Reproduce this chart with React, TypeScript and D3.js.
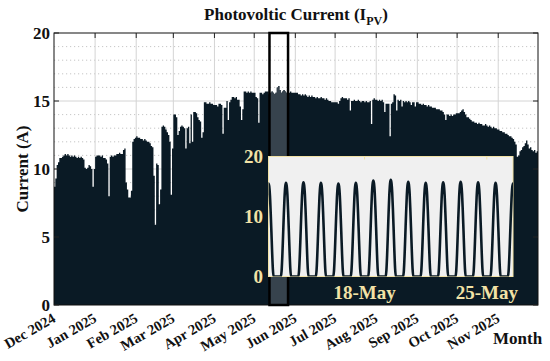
import React from "react";
import * as d3 from "d3";

// ---------- DATA ----------
const monthLabels = ["Dec 2024","Jan 2025","Feb 2025","Mar 2025","Apr 2025","May 2025","Jun 2025","Jul 2025","Aug 2025","Sep 2025","Oct 2025","Nov 2025"];
// daily peak PV current (A)
const dec2024 = [8.7,9.3,10.3,10.5,10.8,10.8,10.9,11.0,11.1,11.0,11.1,11.0,10.9,11.0,10.9,11.0,10.9,10.8,10.9,10.8,10.9,10.8,10.7,10.1,10.0,10.1,10.3,10.2,10.0,8.7,10.0];
const jan2025 = [10.9,11.0,11.0,11.0,10.9,11.0,10.8,10.8,10.7,10.4,8.0,10.9,11.0,10.9,11.0,11.0,11.1,11.1,11.2,11.1,11.1,11.4,11.5,9.0,8.5,7.9,7.9,8.4,12.0,12.2,12.3];
const feb2025 = [12.4,12.3,12.3,12.2,12.2,12.1,12.2,12.1,12.0,12.0,11.9,11.7,11.6,9.5,5.9,10.4,10.3,7.4,8.5,13.1,13.2,13.1,12.9,12.7,12.5,12.0,8.1,11.5];
const mar2025 = [14.0,14.0,13.8,12.5,12.8,13.1,13.2,13.1,13.0,11.5,13.0,13.1,11.9,14.0,12.0,14.2,14.2,14.1,13.8,13.6,13.5,12.3,12.7,14.9,14.9,14.8,14.8,14.9,14.8,14.8,14.7];
const apr2025 = [14.7,14.7,14.6,14.8,14.8,14.7,12.6,14.5,14.5,15.0,13.6,14.9,15.1,15.3,15.3,15.2,15.3,15.1,15.1,14.6,13.6,14.4,15.7,15.7,15.6,15.7,15.6,15.7,15.6,15.6];
const may2025 = [15.6,15.3,15.2,13.4,15.6,15.6,15.5,15.6,15.7,15.7,15.7,15.5,15.6,15.7,15.6,15.5,15.6,16.0,16.1,15.8,15.6,15.7,15.8,15.7,15.6,15.5,15.6,15.7,15.6,15.6,15.6];
const jun2025 = [15.6,15.6,15.5,15.5,15.4,15.5,15.4,15.5,15.4,15.3,15.4,15.3,15.4,15.3,15.3,15.2,15.3,15.2,15.2,15.3,15.2,15.2,15.1,15.2,15.1,15.0,15.0,14.9,14.9,14.9];
const jul2025 = [14.9,14.9,14.8,15.0,15.2,15.3,15.2,15.2,15.2,15.1,15.2,14.3,15.0,15.0,15.1,15.0,15.0,15.1,15.0,14.9,15.0,15.0,14.9,15.0,14.9,14.9,15.0,13.3,15.1,15.2,15.1];
const aug2025 = [15.1,15.0,15.1,15.0,15.1,14.9,14.2,14.8,14.8,14.8,12.4,14.8,14.9,15.5,15.4,14.3,15.1,15.0,15.1,14.6,15.0,14.9,15.0,14.9,15.0,14.9,14.7,14.9,14.9,14.6,14.9];
const sep2025 = [14.9,14.8,14.8,14.7,14.8,14.7,14.7,14.6,14.7,14.6,14.6,14.5,14.5,14.5,14.4,14.4,14.4,14.3,14.3,14.2,14.0,13.6,14.0,14.0,13.9,14.0,13.9,14.0,14.0,14.1];
const oct2025 = [14.1,14.1,14.2,14.3,14.4,14.2,14.0,13.8,13.8,13.7,13.6,13.5,13.5,13.4,13.4,13.3,13.4,13.3,13.3,13.2,13.2,13.3,13.2,13.1,13.2,13.1,13.0,13.1,13.0,13.0,12.9];
const nov2025 = [12.9,12.8,12.8,12.7,12.7,12.6,12.6,12.5,12.4,12.4,12.3,12.2,12.0,11.8,10.9,11.0,11.3,11.4,11.6,11.7,11.9,12.1,11.8,11.5,11.6,11.4,11.3,11.4,11.2,11.3];
// normalised hourly profile of a clear day (hour 0..23)
const dayProfile = [0,0,0,0,0,0,0.06,0.22,0.43,0.65,0.84,0.96,1.0,0.97,0.87,0.69,0.48,0.26,0.08,0,0,0,0,0];
const yTicks = [0,5,10,15,20];
const insetYTicks = [0,10,20];
const insetXTickLabels = ["18-May","25-May"];

// ---------- STYLE ----------
const W = 550, H = 361;
const M = { left: 54, right: 538, top: 33, bottom: 305 };
const DARK = "#0a1a25";
const HILITE = "#37434d";
const CREAM = "#f2e2a6";
const FONT = "'Liberation Serif','Times New Roman',serif";

export default function App() {
  const start = new Date(Date.UTC(2024, 11, 1));
  const end = new Date(Date.UTC(2025, 11, 1));
  const values = [...dec2024, ...jan2025, ...feb2025, ...mar2025, ...apr2025, ...may2025, ...jun2025, ...jul2025, ...aug2025, ...sep2025, ...oct2025, ...nov2025];
  const daily = values.map((v, i) => ({ date: d3.utcDay.offset(start, i), v }));
  const stepData = [...daily, { date: end, v: values[values.length - 1] }];

  const x = d3.scaleUtc().domain([start, end]).range([M.left, M.right]);
  const y = d3.scaleLinear().domain([0, 20]).range([M.bottom, M.top]);
  const area = d3.area<any>().x(d => x(d.date)).y0(y(0)).y1(d => y(d.v)).curve(d3.curveStepAfter);

  const months = d3.utcMonth.range(start, end);
  const minor = d3.range(1, 20).filter(v => v % 5 !== 0);

  // inset (zoom window)
  const zStart = new Date(Date.UTC(2025, 4, 12, 12));
  const zEnd = new Date(Date.UTC(2025, 4, 26, 12));
  const IB = { left: 268.5, right: 513, top: 156.5, bottom: 276.5 };
  const xi = d3.scaleUtc().domain([zStart, zEnd]).range([IB.left, IB.right]);
  const yi = d3.scaleLinear().domain([0, 20]).range([IB.bottom, IB.top]);
  const hourly: { t: Date; v: number }[] = [];
  daily.forEach(d => {
    if (d.date >= d3.utcDay.offset(zStart, -1) && d.date <= d3.utcDay.offset(zEnd, 1)) {
      dayProfile.forEach((p, h) => hourly.push({ t: d3.utcHour.offset(d.date, h), v: d.v * p }));
    }
  });
  const insetLine = d3.line<any>().x(d => xi(d.t)).y(d => yi(d.v)).curve(d3.curveMonotoneX);
  const insetTickDates = [new Date(Date.UTC(2025, 4, 18)), new Date(Date.UTC(2025, 4, 25))];

  const hx0 = x(zStart), hx1 = x(zEnd);

  return (
    <svg width={W} height={H} style={{ position: "absolute", left: 0, top: 0, background: "#fff" }} fontFamily={FONT} fontWeight="bold">
      <defs>
        <clipPath id="hl"><rect x={hx0} y={M.top} width={hx1 - hx0} height={M.bottom - M.top} /></clipPath>
        <clipPath id="inset"><rect x={IB.left} y={IB.top} width={IB.right - IB.left} height={IB.bottom - IB.top} /></clipPath>
      </defs>
      <rect width={W} height={H} fill="#fff" />
      {/* grid */}
      {minor.map(v => (
        <line key={"mn" + v} x1={M.left} x2={M.right} y1={y(v)} y2={y(v)} stroke="#b8b8b8" strokeWidth={0.8} strokeDasharray="1.2 2.8" />
      ))}
      {[5, 10, 15].map(v => (
        <line key={"mj" + v} x1={M.left} x2={M.right} y1={y(v)} y2={y(v)} stroke="#d4d4d4" strokeWidth={1} />
      ))}
      {months.slice(1).map((m, i) => (
        <line key={"vg" + i} x1={x(m)} x2={x(m)} y1={M.top} y2={M.bottom} stroke="#d4d4d4" strokeWidth={1} />
      ))}
      {/* data */}
      <path d={area(stepData) || ""} fill={DARK} />
      <path d={area(stepData) || ""} fill={HILITE} clipPath="url(#hl)" />
      {/* axes box */}
      <rect x={M.left} y={M.top} width={M.right - M.left} height={M.bottom - M.top} fill="none" stroke="#111" strokeWidth={1} />
      {months.slice(1).map((m, i) => (
        <line key={"tt" + i} x1={x(m)} x2={x(m)} y1={M.top} y2={M.top + 5} stroke="#222" strokeWidth={1} />
      ))}
      {yTicks.map(v => (
        <g key={"yt" + v}>
          <line x1={M.left} x2={M.left + 5} y1={y(v)} y2={y(v)} stroke="#222" />
          <line x1={M.right - 5} x2={M.right} y1={y(v)} y2={y(v)} stroke="#222" />
          <text x={M.left - 4} y={y(v)} textAnchor="end" dominantBaseline="central" fontSize={17} fill="#111">{v}</text>
        </g>
      ))}
      {/* highlight rectangle */}
      <rect x={hx0} y={M.top} width={hx1 - hx0} height={M.bottom - M.top} fill="none" stroke="#000" strokeWidth={2.5} />
      {/* inset */}
      <rect x={IB.left} y={IB.top} width={IB.right - IB.left} height={IB.bottom - IB.top} fill="#f0f0f0" stroke={CREAM} strokeWidth={1} />
      <path d={insetLine(hourly) || ""} fill="none" stroke={DARK} strokeWidth={2.6} clipPath="url(#inset)" />
      {insetTickDates.map((t, i) => (
        <line key={"it" + i} x1={xi(t)} x2={xi(t)} y1={IB.top} y2={IB.top + 3} stroke={CREAM} />
      ))}
      {insetYTicks.map(v => (
        <text key={"iy" + v} x={263} y={yi(v)} textAnchor="end" dominantBaseline="central" fontSize={19} fill={CREAM}>{v}</text>
      ))}
      {insetXTickLabels.map((l, i) => (
        <text key={"ix" + i} x={xi(insetTickDates[i])} y={299} textAnchor="middle" fontSize={19} fill={CREAM}>{l}</text>
      ))}
      {/* x tick labels */}
      {months.map((m, i) => (
        <text key={"xl" + i} transform={`translate(${x(m) + 2.5},321) rotate(-30)`} textAnchor="end" fontSize={14.5} fill="#111">{monthLabels[i]}</text>
      ))}
      <text x={493} y={344} fontSize={17} fill="#111">Month</text>
      <text transform={`translate(28,${(M.top + M.bottom) / 2}) rotate(-90)`} textAnchor="middle" fontSize={17} fill="#111">Current (A)</text>
      <text x={(M.left + M.right) / 2} y={20} textAnchor="middle" fontSize={17} fill="#111">
        Photovoltic Current (I<tspan fontSize={12} dy={5}>PV</tspan><tspan dy={-5}>)</tspan>
      </text>
    </svg>
  );
}
